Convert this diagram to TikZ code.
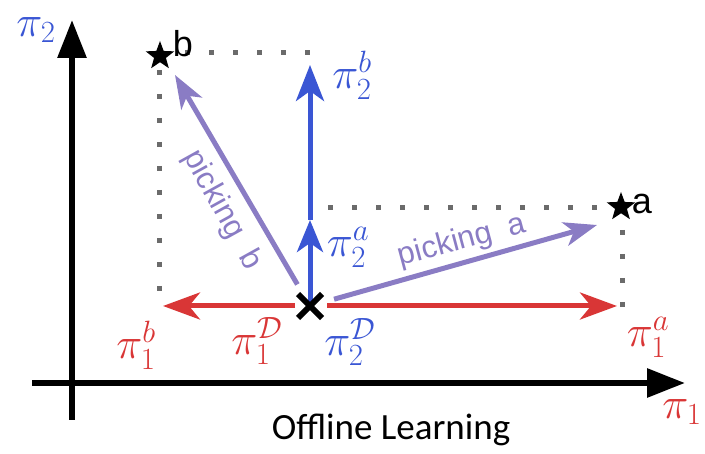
\RequirePackage{fix-cm}
\documentclass[tikz,border=0pt]{standalone}
\usepackage{fontspec}
\newfontfamily\arialf{Liberation Sans}
\newfontfamily\calf{Carlito}
\usetikzlibrary{arrows.meta,shapes.geometric}
\definecolor{cred}{RGB}{217,54,54}
\definecolor{cblue}{RGB}{58,86,212}
\definecolor{cpurple}{RGB}{138,124,196}
\definecolor{cgray}{RGB}{107,107,107}
\tikzset{
  axisline/.style={line width=6pt,-{Triangle[length=38pt,width=28pt]}},
  redarr/.style={cred,line width=5pt,-{Stealth[length=37pt,width=27pt,inset=11pt]}},
  bluearr/.style={cblue,line width=5pt,-{Stealth[length=36pt,width=28pt,inset=10pt]}},
  bluearrs/.style={cblue,line width=5pt,-{Stealth[length=32pt,width=26pt,inset=9pt]}},
  purparr/.style={cpurple,line width=5pt,-{Stealth[length=33pt,width=24pt,inset=9pt]}},
  dotline/.style={cgray,line width=5pt,dash pattern=on 5pt off 19pt},
  mlab/.style={font=\fontsize{44}{52}\selectfont,inner sep=0pt},
  letlab/.style={font=\arialf\fontsize{36}{40}\selectfont,inner sep=0pt},
  picklab/.style={cpurple,font=\arialf\fontsize{31}{36}\selectfont,inner sep=0pt},
  starmark/.style={star,star points=5,star point ratio=2.4,fill=black,inner sep=0pt,minimum size=30pt},
}
\begin{document}
\begin{tikzpicture}[x=1pt,y=-1pt]
\useasboundingbox (0,0) rectangle (705,454);
% axes
\coordinate (ybot) at (72,420);
\coordinate (ytop) at (72,20);
\coordinate (xleft) at (32,383);
\coordinate (xright) at (685,383);
\draw[axisline] (ybot) -- (ytop);
\draw[axisline] (xleft) -- (xright);
% key points
\coordinate (O) at (310,306);
\coordinate (Ra) at (617,306);
\coordinate (Rb) at (163,306);
\coordinate (B1) at (310,220);
\coordinate (B2) at (310,65);
\coordinate (Pb) at (175,75);
\coordinate (Pa) at (597,225);
% stars
\node[starmark] (sb) at (160,56) {};
\node[starmark] (sa) at (621,207) {};
% dotted lines
\draw[dotline] (185,53) -- (312,53);
\draw[dotline] (159,70) -- (159,292);
\draw[dotline] (328,208) -- (600,208);
\draw[dotline] (622,230) -- (622,309);
% red arrows
\draw[redarr] ([xshift=17pt]O) -- (Ra);
\draw[redarr] ([xshift=-15pt]O) -- (Rb);
% blue arrows
\draw[bluearrs] (O) -- (B1);
\draw[bluearr] (B1) -- (B2);
% purple arrows
\draw[purparr,shorten <=25pt] (O) -- (Pb);
\draw[purparr,shorten <=25pt] (O) -- (Pa);
% X mark
\draw[line width=6pt] ([shift={(-12pt,-12pt)}]O) -- ([shift={(12pt,12pt)}]O);
\draw[line width=6pt] ([shift={(-12pt,12pt)}]O) -- ([shift={(12pt,-12pt)}]O);
% labels
\node[mlab,cblue] (lp2) at (36,30) {$\pi_2$};
\node[mlab,cred] (lp1) at (682,412) {$\pi_1$};
\node[mlab,cblue] (lp2b) at (352,75) {$\pi_2^b$};
\node[mlab,cblue] (lp2a) at (348,247) {$\pi_2^a$};
\node[mlab,cblue] (lp2D) at (350,342) {$\pi_2^{\mathcal{D}}$};
\node[mlab,cred] (lp1D) at (257,341) {$\pi_1^{\mathcal{D}}$};
\node[mlab,cred] (lp1b) at (136,345) {$\pi_1^b$};
\node[mlab,cred] (lp1a) at (648,337) {$\pi_1^a$};
\node[letlab] (lb) at (183,44) {b};
\node[letlab] (la) at (642,204) {a};
\node[picklab,rotate=-61] (pkb) at (222,210) {picking\ \ b};
\node[picklab,rotate=15] (pka) at (462,241) {picking\ \ a};
\node[font=\calf\fontsize{37}{40}\selectfont,inner sep=0pt] (title) at (391,430) {Offline Learning};
\end{tikzpicture}
\end{document}
